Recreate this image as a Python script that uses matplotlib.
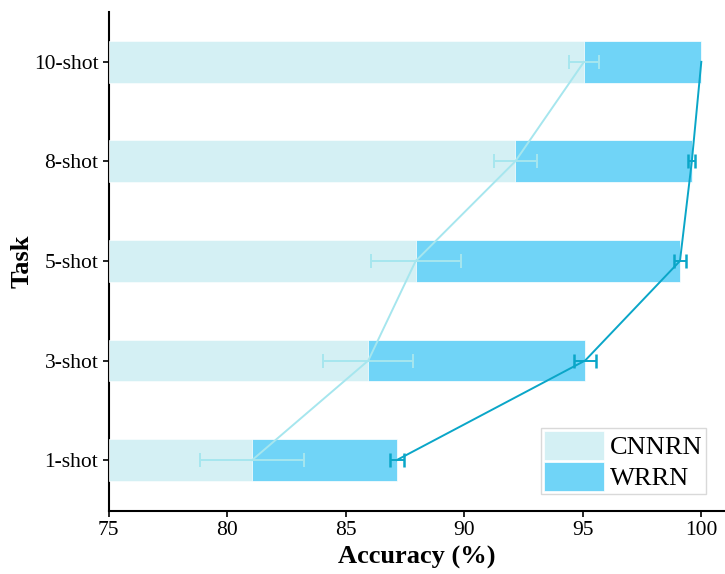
import matplotlib
matplotlib.use("Agg")
import matplotlib.pyplot as plt
import numpy as np

tasks = ["1-shot", "3-shot", "5-shot", "8-shot", "10-shot"]
cnnrn = [81.05, 85.95, 87.95, 92.15, 95.05]
cnnrn_err = [2.2, 1.9, 1.9, 0.9, 0.65]
wrrn = [87.15, 95.1, 99.1, 99.6, 100.0]
wrrn_err = [0.3, 0.45, 0.25, 0.15, 0.0]

plt.rcParams['font.family'] = ['Liberation Serif', 'DejaVu Serif']

fig = plt.figure(figsize=(7.25, 5.74), dpi=100)
ax = fig.add_axes([0.150, 0.110, 0.850, 0.869])

y = np.arange(len(tasks))
c_bar_c = '#D4F0F4'
c_bar_w = '#70D4F7'
c_line_c = '#A6E6EE'
c_line_w = '#0AA6C8'

ax.barh(y, np.array(wrrn) - 75, left=75, height=0.42, color=c_bar_w,
        edgecolor='white', linewidth=0.5, label='WRRN', zorder=2)
ax.barh(y, np.array(cnnrn) - 75, left=75, height=0.42, color=c_bar_c,
        edgecolor='white', linewidth=0.5, label='CNNRN', zorder=3)


def draw_series(vals, errs, color, capthick, z):
    vals = np.asarray(vals)
    errs = np.asarray(errs)
    ax.plot(vals, y, color=color, lw=1.4, zorder=z)
    m = errs > 0
    ax.errorbar(vals[m], y[m], xerr=errs[m], fmt='none', ecolor=color,
                elinewidth=1.4, capsize=4.7, capthick=capthick, zorder=z)


draw_series(cnnrn, cnnrn_err, c_line_c, 1.4, 4)
draw_series(wrrn, wrrn_err, c_line_w, 1.8, 5)

ax.set_xlim(75, 101)
ax.set_ylim(-0.51, 4.5)
ax.set_xticks([75, 80, 85, 90, 95, 100])
ax.set_yticks(y)
ax.set_yticklabels(tasks)
ax.tick_params(axis='both', labelsize=15.5, direction='out', length=4, width=1.2)
ax.spines['top'].set_visible(False)
ax.spines['right'].set_visible(False)
ax.spines['left'].set_linewidth(1.5)
ax.spines['bottom'].set_linewidth(1.5)

ax.set_xlabel('Accuracy (%)', fontsize=19, fontweight='bold', labelpad=4)
ax.set_ylabel('Task', fontsize=19, fontweight='bold', labelpad=0)

handles, labels = ax.get_legend_handles_labels()
order = [1, 0]
leg = ax.legend([handles[i] for i in order], [labels[i] for i in order],
                loc='lower right', fontsize=19, frameon=True, fancybox=False,
                edgecolor='#D0D0D0', handlelength=2.25, handleheight=1.3,
                handletextpad=0.25, borderpad=0.12, labelspacing=0.08,
                borderaxespad=0.0,
                bbox_to_anchor=(0.969, 0.034))
leg.get_frame().set_linewidth(1.0)

fig.savefig('out.png', dpi=100)
